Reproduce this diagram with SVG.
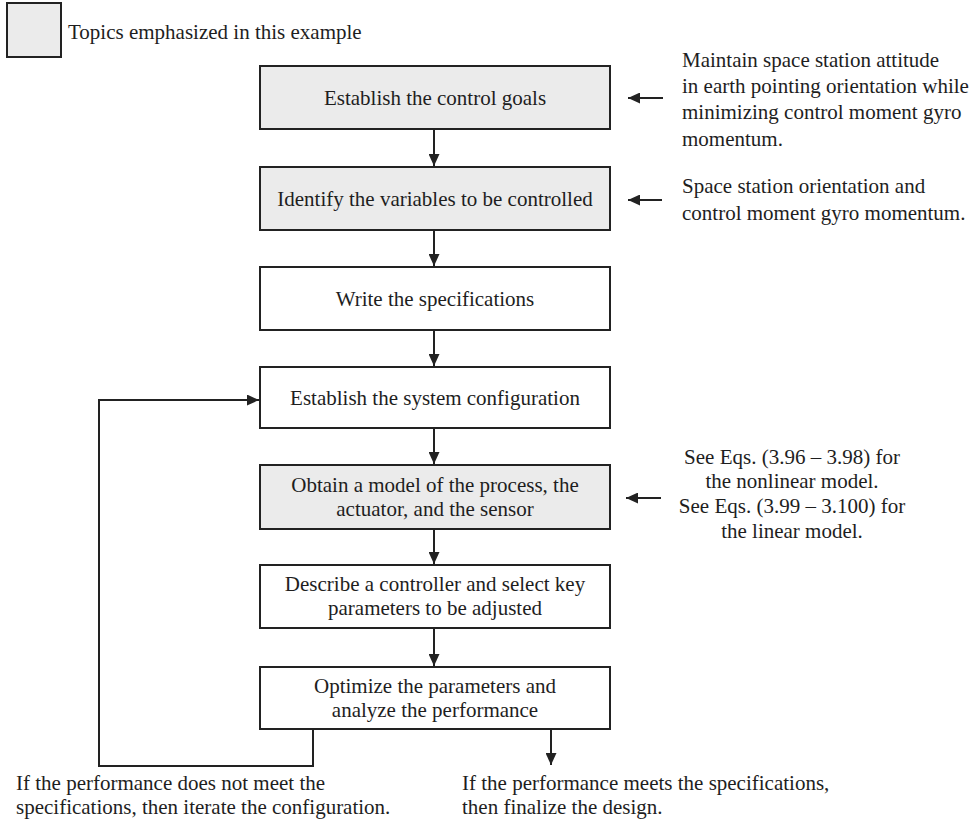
<svg xmlns="http://www.w3.org/2000/svg" width="979" height="824" viewBox="0 0 979 824">
<defs>
<style>
.bx{fill:#ffffff;stroke:#222;stroke-width:2}
.sh{fill:#ebebeb}
.t{font-family:"Liberation Serif","Times New Roman",serif;font-size:21px;fill:#1e1e1e}
.c{text-anchor:middle}
.ln{fill:none;stroke:#222;stroke-width:2}
</style>
<marker id="ah" markerUnits="userSpaceOnUse" markerWidth="13" markerHeight="11" refX="12" refY="5.5" orient="auto">
<path d="M0,0 L12,5.5 L0,11 z" fill="#222"/>
</marker>
</defs>
<rect width="979" height="824" fill="#ffffff"/>

<g id="legend">
<rect class="bx sh" x="7" y="3" width="54" height="54"/>
<text class="t" x="68" y="39">Topics emphasized in this example</text>
</g>

<g id="n1">
<rect class="bx sh" x="260" y="66" width="350" height="63"/>
<text class="t c" x="435" y="105">Establish the control goals</text>
</g>
<g id="n2">
<rect class="bx sh" x="260" y="167" width="350" height="63"/>
<text class="t c" x="435" y="206">Identify the variables to be controlled</text>
</g>
<g id="n3">
<rect class="bx" x="260" y="267" width="350" height="63"/>
<text class="t c" x="435" y="306">Write the specifications</text>
</g>
<g id="n4">
<rect class="bx" x="260" y="367" width="350" height="61"/>
<text class="t c" x="435" y="405">Establish the system configuration</text>
</g>
<g id="n5">
<rect class="bx sh" x="260" y="465" width="350" height="64"/>
<text class="t c" x="435" y="492">Obtain a model of the process, the</text>
<text class="t c" x="435" y="516">actuator, and the sensor</text>
</g>
<g id="n6">
<rect class="bx" x="260" y="565" width="350" height="63"/>
<text class="t c" x="435" y="591">Describe a controller and select key</text>
<text class="t c" x="435" y="615">parameters to be adjusted</text>
</g>
<g id="n7">
<rect class="bx" x="260" y="667" width="350" height="62"/>
<text class="t c" x="435" y="693">Optimize the parameters and</text>
<text class="t c" x="435" y="717">analyze the performance</text>
</g>

<g id="a1">
<text class="t" x="682" y="67">Maintain space station attitude</text>
<text class="t" x="682" y="93">in earth pointing orientation while</text>
<text class="t" x="682" y="119">minimizing control moment gyro</text>
<text class="t" x="682" y="146">momentum.</text>
</g>
<g id="a2">
<text class="t" x="682" y="193">Space station orientation and</text>
<text class="t" x="682" y="220">control moment gyro momentum.</text>
</g>
<g id="a3">
<text class="t c" x="792" y="464">See Eqs. (3.96 – 3.98) for</text>
<text class="t c" x="792" y="488">the nonlinear model.</text>
<text class="t c" x="792" y="513">See Eqs. (3.99 – 3.100) for</text>
<text class="t c" x="792" y="538">the linear model.</text>
</g>
<g id="out-left">
<text class="t" x="16" y="790">If the performance does not meet the</text>
<text class="t" x="16" y="814">specifications, then iterate the configuration.</text>
</g>
<g id="out-right">
<text class="t" x="462" y="790">If the performance meets the specifications,</text>
<text class="t" x="462" y="814">then finalize the design.</text>
</g>

<g id="connectors">
<line class="ln" x1="434" y1="129" x2="434" y2="166" marker-end="url(#ah)"/>
<line class="ln" x1="434" y1="230" x2="434" y2="266" marker-end="url(#ah)"/>
<line class="ln" x1="434" y1="330" x2="434" y2="366" marker-end="url(#ah)"/>
<line class="ln" x1="434" y1="428" x2="434" y2="464" marker-end="url(#ah)"/>
<line class="ln" x1="434" y1="529" x2="434" y2="564" marker-end="url(#ah)"/>
<line class="ln" x1="434" y1="628" x2="434" y2="666" marker-end="url(#ah)"/>
<polyline class="ln" points="313,729 313,766 99,766 99,400 259,400" marker-end="url(#ah)"/>
<line class="ln" x1="551" y1="729" x2="551" y2="765" marker-end="url(#ah)"/>
<line class="ln" x1="663" y1="98" x2="628" y2="98" marker-end="url(#ah)"/>
<line class="ln" x1="662" y1="200" x2="628" y2="200" marker-end="url(#ah)"/>
<line class="ln" x1="661" y1="498" x2="626" y2="498" marker-end="url(#ah)"/>
</g>
</svg>
